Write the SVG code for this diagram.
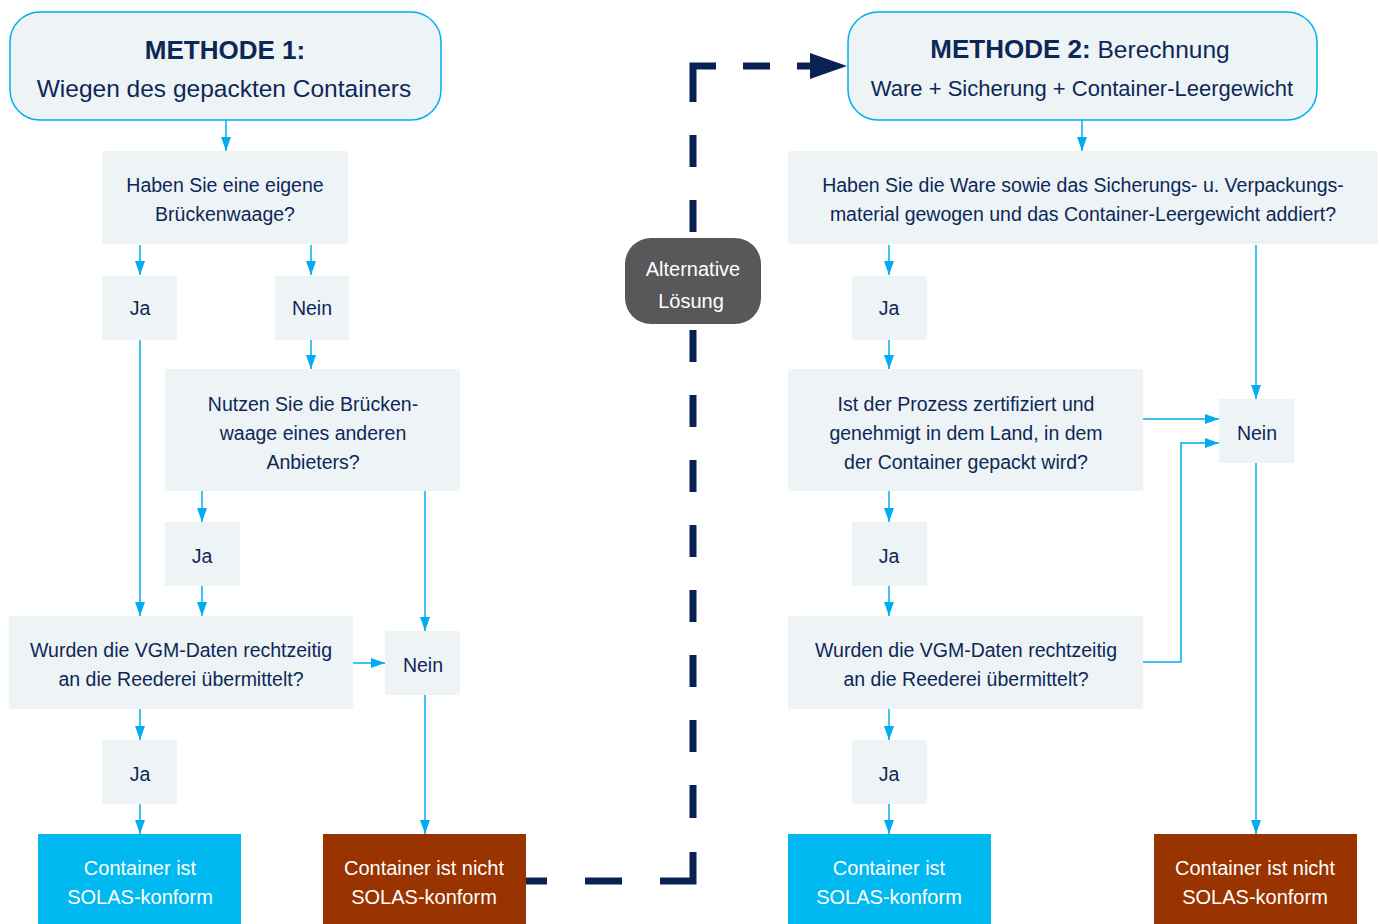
<svg xmlns="http://www.w3.org/2000/svg" width="1380" height="924" viewBox="0 0 1380 924">
<defs>
<marker id="ah" viewBox="0 0 14 10" refX="14" refY="5" markerWidth="14" markerHeight="10" markerUnits="userSpaceOnUse" orient="auto">
<path d="M0,0 L14,5 L0,10 Z" fill="#00aeef"/>
</marker>
<style>
.box{fill:#eef3f6}
.hdr{fill:#eef3f6;stroke:#00aeef;stroke-width:1.5}
.t{font-family:"Liberation Sans",Arial,sans-serif;font-size:19.5px;fill:#0d2857;text-anchor:middle}
.h{font-family:"Liberation Sans",Arial,sans-serif;font-size:24.5px;fill:#0d2857;text-anchor:middle}
.hs{font-size:22px}
.hb{font-weight:bold;font-size:26px}
.w{font-family:"Liberation Sans",Arial,sans-serif;font-size:20px;fill:#ffffff;text-anchor:middle}
.c{fill:none;stroke:#00aeef;stroke-width:1.5;marker-end:url(#ah)}
.d{fill:none;stroke:#0a2253;stroke-width:7;stroke-linejoin:miter}
</style>
</defs>
<rect width="1380" height="924" fill="#ffffff"/>
<g id="connectors">
<path class="c" d="M226,120 V151"/>
<path class="c" d="M140,245 V275"/>
<path class="c" d="M311,245 V275"/>
<path class="c" d="M311,340 V369"/>
<path class="c" d="M140,340 V616"/>
<path class="c" d="M202,491 V522"/>
<path class="c" d="M202,586 V616"/>
<path class="c" d="M425,491 V631"/>
<path class="c" d="M353,663 H385"/>
<path class="c" d="M140,709 V740"/>
<path class="c" d="M140,804 V834"/>
<path class="c" d="M425,695 V834"/>
<path class="c" d="M1082,120 V151"/>
<path class="c" d="M889,245 V275"/>
<path class="c" d="M1256,245 V399"/>
<path class="c" d="M889,340 V369"/>
<path class="c" d="M1143,419 H1219"/>
<path class="c" d="M889,491 V522"/>
<path class="c" d="M889,586 V616"/>
<path class="c" d="M1143,662 H1181 V443 H1219"/>
<path class="c" d="M889,709 V740"/>
<path class="c" d="M889,804 V834"/>
<path class="c" d="M1256,463 V834"/>
<path class="d" d="M693,102 V66 H716 M743,66 H770 M797,66 H812 M693,135 V167 M693,200 V232 M693,330 V362 M693,395 V427 M693,460 V492 M693,525 V557 M693,590 V622 M693,655 V687 M693,720 V752 M693,785 V818 M693,852 V881 H660 M622,881 H585 M547,881 H520"/>
<path d="M810,53 L847,66 L810,79 Z" fill="#0a2253"/>
</g>
<g id="m1">
<rect class="hdr" x="10" y="12" width="431" height="108" rx="30"/>
<text class="h hb" x="225" y="59">METHODE 1:</text>
<text class="h" x="224" y="97">Wiegen des gepackten Containers</text>
</g>
<g id="m2">
<rect class="hdr" x="848" y="12" width="469" height="108" rx="30"/>
<text class="h" x="1080" y="58"><tspan font-weight="bold" font-size="26">METHODE 2:</tspan> Berechnung</text>
<text class="h hs" x="1082" y="96">Ware + Sicherung + Container-Leergewicht</text>
</g>
<g id="q1">
<rect class="box" x="102" y="151" width="246" height="93"/>
<text class="t" x="225" y="192">Haben Sie eine eigene</text>
<text class="t" x="225" y="221">Brückenwaage?</text>
</g>
<g id="ja1">
<rect class="box" x="102" y="276" width="75" height="64"/>
<text class="t" x="140" y="315">Ja</text>
</g>
<g id="nein1">
<rect class="box" x="275" y="276" width="74" height="64"/>
<text class="t" x="312" y="315">Nein</text>
</g>
<g id="q2">
<rect class="box" x="165" y="369" width="295" height="122"/>
<text class="t" x="313" y="411">Nutzen Sie die Brücken-</text>
<text class="t" x="313" y="440">waage eines anderen</text>
<text class="t" x="313" y="469">Anbieters?</text>
</g>
<g id="ja2">
<rect class="box" x="165" y="522" width="75" height="64"/>
<text class="t" x="202" y="563">Ja</text>
</g>
<g id="q3">
<rect class="box" x="9" y="616" width="344" height="93"/>
<text class="t" x="181" y="657">Wurden die VGM-Daten rechtzeitig</text>
<text class="t" x="181" y="686">an die Reederei übermittelt?</text>
</g>
<g id="nein2">
<rect class="box" x="385" y="631" width="75" height="64"/>
<text class="t" x="423" y="672">Nein</text>
</g>
<g id="ja3">
<rect class="box" x="102" y="740" width="75" height="64"/>
<text class="t" x="140" y="781">Ja</text>
</g>
<g id="ok1">
<rect x="38" y="834" width="203" height="90" fill="#00b9f0"/>
<text class="w" x="140" y="875">Container ist</text>
<text class="w" x="140" y="904">SOLAS-konform</text>
</g>
<g id="nok1">
<rect x="323" y="834" width="203" height="90" fill="#993300"/>
<text class="w" x="424" y="875">Container ist nicht</text>
<text class="w" x="424" y="904">SOLAS-konform</text>
</g>
<g id="alt">
<rect x="625" y="238" width="136" height="86" rx="26" fill="#58585a"/>
<text class="w" x="693" y="276">Alternative</text>
<text class="w" x="691" y="308">Lösung</text>
</g>
<g id="q4">
<rect class="box" x="788" y="151" width="590" height="93"/>
<text class="t" x="1083" y="192">Haben Sie die Ware sowie das Sicherungs- u. Verpackungs-</text>
<text class="t" x="1083" y="221">material gewogen und das Container-Leergewicht addiert?</text>
</g>
<g id="ja4">
<rect class="box" x="852" y="276" width="75" height="64"/>
<text class="t" x="889" y="315">Ja</text>
</g>
<g id="nein3">
<rect class="box" x="1219" y="399" width="75" height="64"/>
<text class="t" x="1257" y="440">Nein</text>
</g>
<g id="q5">
<rect class="box" x="788" y="369" width="355" height="122"/>
<text class="t" x="966" y="411">Ist der Prozess zertifiziert und</text>
<text class="t" x="966" y="440">genehmigt in dem Land, in dem</text>
<text class="t" x="966" y="469">der Container gepackt wird?</text>
</g>
<g id="ja5">
<rect class="box" x="852" y="522" width="75" height="64"/>
<text class="t" x="889" y="563">Ja</text>
</g>
<g id="q6">
<rect class="box" x="788" y="616" width="355" height="93"/>
<text class="t" x="966" y="657">Wurden die VGM-Daten rechtzeitig</text>
<text class="t" x="966" y="686">an die Reederei übermittelt?</text>
</g>
<g id="ja6">
<rect class="box" x="852" y="740" width="75" height="64"/>
<text class="t" x="889" y="781">Ja</text>
</g>
<g id="ok2">
<rect x="788" y="834" width="203" height="90" fill="#00b9f0"/>
<text class="w" x="889" y="875">Container ist</text>
<text class="w" x="889" y="904">SOLAS-konform</text>
</g>
<g id="nok2">
<rect x="1154" y="834" width="203" height="90" fill="#993300"/>
<text class="w" x="1255" y="875">Container ist nicht</text>
<text class="w" x="1255" y="904">SOLAS-konform</text>
</g>
</svg>
